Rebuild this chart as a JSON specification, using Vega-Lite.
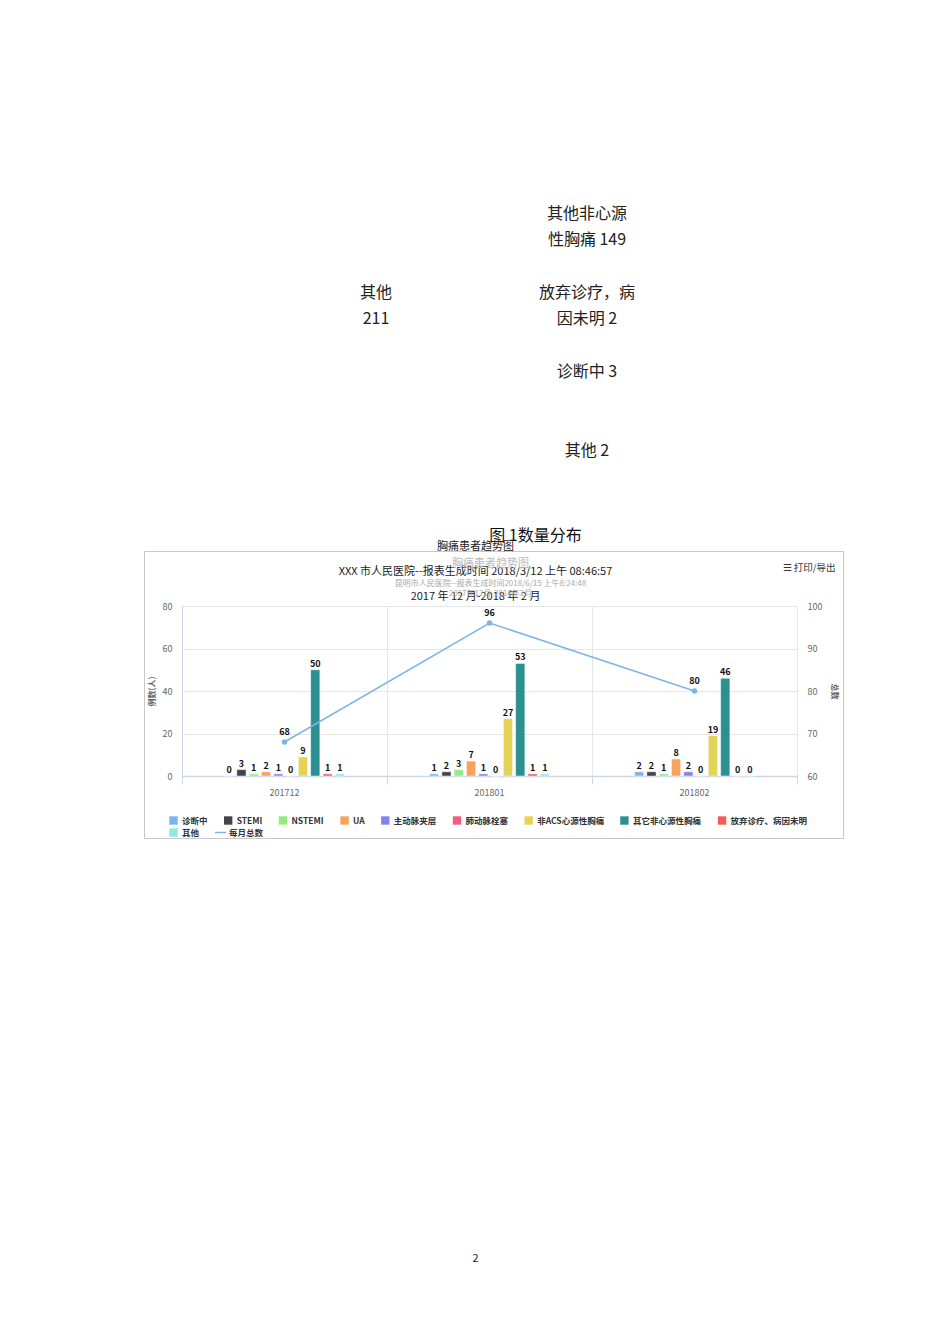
{
  "$schema": "https://vega.github.io/schema/vega-lite/v6.json",
  "background": "white",
  "padding": {"left": 143, "top": 0, "right": 108, "bottom": 0},
  "bounds": "flush",
  "spacing": 86,
  "config": {
    "font": "Noto Sans CJK SC",
    "view": {"stroke": null},
    "title": {"fontWeight": "normal", "subtitleFontWeight": "normal", "anchor": "middle"}
  },
  "title": {"text": "2", "anchor": "middle", "orient": "bottom", "offset": 359, "fontSize": 11, "color": "#222", "dx": -37},
  "datasets": {
    "pie": [
      {"类别": "其他非心源性胸痛", "数量": 149, "标签": "其他非心源\n性胸痛 149", "侧": "右", "行": 1},
      {"类别": "其他", "数量": 211, "标签": "其他\n211", "侧": "左", "行": 2},
      {"类别": "放弃诊疗，病因未明", "数量": 2, "标签": "放弃诊疗，病\n因未明 2", "侧": "右", "行": 2},
      {"类别": "诊断中", "数量": 3, "标签": "诊断中 3", "侧": "右", "行": 3},
      {"类别": "其他", "数量": 2, "标签": "其他 2", "侧": "右", "行": 4}
    ],
    "bars": [
      {"月份": "201712", "类别": "诊断中", "例数": 0},
      {"月份": "201712", "类别": "STEMI", "例数": 3},
      {"月份": "201712", "类别": "NSTEMI", "例数": 1},
      {"月份": "201712", "类别": "UA", "例数": 2},
      {"月份": "201712", "类别": "主动脉夹层", "例数": 1},
      {"月份": "201712", "类别": "肺动脉栓塞", "例数": 0},
      {"月份": "201712", "类别": "非ACS心源性胸痛", "例数": 9},
      {"月份": "201712", "类别": "其它非心源性胸痛", "例数": 50},
      {"月份": "201712", "类别": "放弃诊疗、病因未明", "例数": 1},
      {"月份": "201712", "类别": "其他", "例数": 1},
      {"月份": "201801", "类别": "诊断中", "例数": 1},
      {"月份": "201801", "类别": "STEMI", "例数": 2},
      {"月份": "201801", "类别": "NSTEMI", "例数": 3},
      {"月份": "201801", "类别": "UA", "例数": 7},
      {"月份": "201801", "类别": "主动脉夹层", "例数": 1},
      {"月份": "201801", "类别": "肺动脉栓塞", "例数": 0},
      {"月份": "201801", "类别": "非ACS心源性胸痛", "例数": 27},
      {"月份": "201801", "类别": "其它非心源性胸痛", "例数": 53},
      {"月份": "201801", "类别": "放弃诊疗、病因未明", "例数": 1},
      {"月份": "201801", "类别": "其他", "例数": 1},
      {"月份": "201802", "类别": "诊断中", "例数": 2},
      {"月份": "201802", "类别": "STEMI", "例数": 2},
      {"月份": "201802", "类别": "NSTEMI", "例数": 1},
      {"月份": "201802", "类别": "UA", "例数": 8},
      {"月份": "201802", "类别": "主动脉夹层", "例数": 2},
      {"月份": "201802", "类别": "肺动脉栓塞", "例数": 0},
      {"月份": "201802", "类别": "非ACS心源性胸痛", "例数": 19},
      {"月份": "201802", "类别": "其它非心源性胸痛", "例数": 46},
      {"月份": "201802", "类别": "放弃诊疗、病因未明", "例数": 0},
      {"月份": "201802", "类别": "其他", "例数": 0}
    ],
    "totals": [
      {"月份": "201712", "类别": "每月总数", "总数": 68},
      {"月份": "201801", "类别": "每月总数", "总数": 96},
      {"月份": "201802", "类别": "每月总数", "总数": 80}
    ]
  },
  "vconcat": [
    {
      "width": 615,
      "height": 520,
      "data": {"name": "pie"},
      "title": {"text": "图 1数量分布", "anchor": "middle", "orient": "bottom", "offset": 8, "fontSize": 16, "color": "#111", "dx": 46},
      "mark": {"type": "text", "fontSize": 16, "lineBreak": "\n", "lineHeight": 26, "color": "#222", "baseline": "middle"},
      "encoding": {
        "x": {"field": "侧", "type": "nominal", "scale": {"type": "point", "domain": ["左", "右"], "range": [194, 405], "padding": 0}, "axis": null},
        "y": {"field": "行", "type": "ordinal", "scale": {"type": "point", "domain": [1, 2, 3, 4], "range": [214, 451], "padding": 0}, "axis": null},
        "text": {"field": "标签"}
      }
    },
    {
      "bounds": "flush",
      "title": {"text": "☰ 打印/导出", "anchor": "end", "orient": "top", "offset": -32, "fontSize": 9.5, "color": "#333", "dx": -46},
      "vconcat": [
        {
          "bounds": "flush",
          "title": {
            "text": "胸痛患者趋势图",
            "subtitle": ["昆明市人民医院--报表生成时间2018/6/15 上午8:24:48", "2017年12月-2018年2月"],
            "anchor": "middle",
            "orient": "top",
            "offset": -57,
            "dx": -22,
            "fontSize": 11,
            "color": "#bbbbbb",
            "subtitleFontSize": 8,
            "subtitleColor": "#aaaaaa",
            "subtitleLineHeight": 10,
            "subtitlePadding": 11
          },
          "vconcat": [
            {
              "width": 615,
              "height": 170,
              "view": {"stroke": "#e6e6e6"},
              "title": {
                "text": ["胸痛患者趋势图", "XXX 市人民医院--报表生成时间 2018/3/12 上午 08:46:57", "2017 年 12 月-2018 年 2 月"],
                "lineHeight": 25,
                "fontSize": 11,
                "color": "#222",
                "offset": -51,
                "dx": -14,
                "anchor": "middle"
              },
              "layer": [
                {
                  "data": {"name": "totals"},
                  "mark": {"type": "point", "opacity": 0},
                  "encoding": {
                    "x": {"field": "月份", "type": "nominal", "scale": {"type": "point", "range": [-38, 661]}, "axis": {"orient": "top", "offset": 55, "title": null, "labels": false, "ticks": false, "grid": false, "domainColor": "#c8c8c8", "domainWidth": 1}},
                    "y": {"field": "总数", "type": "quantitative", "scale": {"range": [232, -55]}, "axis": {"orient": "left", "offset": 38, "title": null, "labels": false, "ticks": false, "grid": false, "domainColor": "#c8c8c8", "domainWidth": 1}}
                  }
                },
                {
                  "data": {"name": "totals"},
                  "mark": {"type": "point", "opacity": 0},
                  "encoding": {
                    "x": {"field": "月份", "type": "nominal", "scale": {"type": "point", "range": [-38, 661]}, "axis": {"orient": "bottom", "offset": 62, "title": null, "labels": false, "ticks": false, "grid": false, "domainColor": "#c8c8c8", "domainWidth": 1}},
                    "y": {"field": "总数", "type": "quantitative", "scale": {"range": [232, -55]}, "axis": {"orient": "right", "offset": 46, "title": null, "labels": false, "ticks": false, "grid": false, "domainColor": "#c8c8c8", "domainWidth": 1}}
                  }
                },
                {
                  "data": {"name": "totals"},
                  "mark": {"type": "point", "opacity": 0},
                  "encoding": {
                    "x": {"field": "月份", "type": "nominal", "scale": {"type": "band", "paddingInner": 0, "paddingOuter": 0}, "axis": {"orient": "bottom", "title": null, "labels": false, "domain": false, "tickBand": "extent", "grid": true, "gridColor": "#e6e6e6", "ticks": true, "tickColor": "#ccd6eb", "tickSize": 8}},
                    "y": {"field": "总数", "type": "quantitative", "axis": null}
                  }
                },
                {
                  "layer": [
                    {
                      "data": {"name": "bars"},
                      "layer": [
                        {
                          "mark": {"type": "bar", "stroke": "white", "strokeWidth": 0.5},
                          "encoding": {
                            "x": {
                              "field": "月份", "type": "nominal",
                              "scale": {"paddingInner": 0.4, "paddingOuter": 0.2},
                              "axis": {"orient": "bottom", "title": null, "grid": false, "ticks": false, "tickSize": 0, "domainColor": "#ccd6eb", "domainWidth": 1.5, "labelColor": "#666", "labelFontSize": 9, "labelPadding": 12, "labelAngle": 0}
                            },
                            "xOffset": {
                              "field": "类别", "type": "nominal",
                              "scale": {"domain": ["诊断中", "STEMI", "NSTEMI", "UA", "主动脉夹层", "肺动脉栓塞", "非ACS心源性胸痛", "其它非心源性胸痛", "放弃诊疗、病因未明", "其他"], "paddingInner": 0.25, "paddingOuter": 0.125}
                            },
                            "y": {
                              "field": "例数", "type": "quantitative",
                              "scale": {"domain": [0, 80]},
                              "axis": {"orient": "left", "title": "例数(人)", "values": [0, 20, 40, 60, 80], "grid": true, "gridColor": "#e6e6e6", "ticks": false, "domainColor": "#ccd6eb", "labelColor": "#666", "labelFontSize": 9, "labelPadding": 10, "titleFontSize": 8, "titleColor": "#666", "titlePadding": 6}
                            },
                            "color": {
                              "field": "类别", "type": "nominal",
                              "scale": {
                                "domain": ["诊断中", "STEMI", "NSTEMI", "UA", "主动脉夹层", "肺动脉栓塞", "非ACS心源性胸痛", "其它非心源性胸痛", "放弃诊疗、病因未明", "其他"],
                                "range": ["#7cb5ec", "#434348", "#90ed7d", "#f7a35c", "#8085e9", "#f15c80", "#e4d354", "#2b908f", "#f45b5b", "#91e8e1"]
                              },
                              "legend": {"title": null, "orient": "none", "legendX": -13, "legendY": 816, "direction": "horizontal", "columns": 9, "symbolType": "square", "symbolSize": 70, "symbolStrokeWidth": 0, "labelFontSize": 8.5, "labelFontWeight": "bold", "labelColor": "#333", "labelOffset": 4, "columnPadding": 15.7, "rowPadding": 3}
                            }
                          }
                        },
                        {
                          "mark": {"type": "text", "dy": -6, "fontSize": 9, "fontWeight": "bold", "color": "#111"},
                          "encoding": {
                            "x": {"field": "月份", "type": "nominal"},
                            "xOffset": {"field": "类别", "type": "nominal"},
                            "y": {"field": "例数", "type": "quantitative"},
                            "text": {"field": "例数", "type": "quantitative"}
                          }
                        }
                      ]
                    },
                    {
                      "data": {"name": "totals"},
                      "layer": [
                        {
                          "mark": {"type": "line", "strokeWidth": 1.5},
                          "encoding": {
                            "x": {"field": "月份", "type": "nominal"},
                            "y": {
                              "field": "总数", "type": "quantitative",
                              "scale": {"domain": [60, 100]},
                              "axis": {"orient": "right", "title": "总数", "values": [60, 70, 80, 90, 100], "grid": false, "ticks": false, "domain": false, "labelColor": "#666", "labelFontSize": 9, "labelPadding": 10, "titleFontSize": 8, "titleColor": "#666", "titleAngle": 90, "titlePadding": 8}
                            },
                            "stroke": {
                              "field": "类别", "type": "nominal",
                              "scale": {"domain": ["每月总数"], "range": ["#7cb5ec"]},
                              "legend": {"title": null, "orient": "none", "legendX": 32, "legendY": 826, "symbolType": "stroke", "symbolSize": 120, "symbolStrokeWidth": 1.5, "labelFontSize": 8.5, "labelFontWeight": "bold", "labelColor": "#333", "labelOffset": 2}
                            }
                          }
                        },
                        {
                          "mark": {"type": "point", "filled": true, "size": 30, "color": "#7cb5ec", "opacity": 1},
                          "encoding": {
                            "x": {"field": "月份", "type": "nominal"},
                            "y": {"field": "总数", "type": "quantitative"}
                          }
                        },
                        {
                          "mark": {"type": "text", "dy": -10, "fontSize": 9, "fontWeight": "bold", "color": "#111"},
                          "encoding": {
                            "x": {"field": "月份", "type": "nominal"},
                            "y": {"field": "总数", "type": "quantitative"},
                            "text": {"field": "总数", "type": "quantitative"}
                          }
                        }
                      ]
                    }
                  ],
                  "resolve": {"scale": {"y": "independent"}}
                }
              ],
              "resolve": {"scale": {"x": "independent", "y": "independent"}}
            }
          ]
        }
      ]
    }
  ]
}
